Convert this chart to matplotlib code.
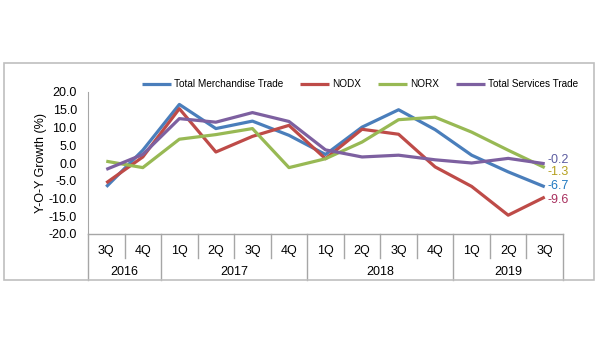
import matplotlib
matplotlib.use("Agg")
import matplotlib.pyplot as plt
from matplotlib.patches import Rectangle

plt.rcParams['font.family'] = ['Liberation Sans', 'DejaVu Sans']

quarters = ["3Q", "4Q", "1Q", "2Q", "3Q", "4Q", "1Q", "2Q", "3Q", "4Q", "1Q", "2Q", "3Q"]
years = ["2016", "2017", "2018", "2019"]
year_spans = [(0, 1), (2, 5), (6, 9), (10, 12)]

merch = [-6.7, 3.6, 16.5, 9.7, 11.8, 7.8, 2.4, 10.1, 15.0, 9.4, 2.2, -2.5, -6.7]
nodx = [-5.6, 1.7, 15.3, 3.1, 7.5, 10.6, 1.2, 9.5, 8.1, -1.1, -6.6, -14.7, -9.6]
norx = [0.5, -1.3, 6.7, 8.0, 9.7, -1.3, 1.2, 5.9, 12.2, 12.9, 8.7, 3.6, -1.3]
services = [-1.8, 2.4, 12.5, 11.5, 14.2, 11.7, 3.7, 1.7, 2.2, 0.9, 0.0, 1.3, -0.2]

# (name, values, line colour, end-label colour, end-label y position)
series = [
    ("Total Merchandise Trade", merch, "#4a7ebb", "#1f78c0", -6.4),
    ("NODX", nodx, "#be4b48", "#a8305e", -10.5),
    ("NORX", norx, "#98b954", "#b5a01e", -2.6),
    ("Total Services Trade", services, "#7d60a0", "#5c5ca0", 0.8),
]

fig = plt.figure(figsize=(6, 3.6), dpi=100)
fig.patch.set_facecolor("white")
fig.patches.append(Rectangle((4/600, 1-280/360), 590/600, 217/360, transform=fig.transFigure,
                             fill=False, edgecolor="#bfbfbf", linewidth=1.2))

ax = fig.add_axes([88/600, 1-234/360, 475/600, 142/360])
x = list(range(len(quarters)))
for name, vals, col, lcol, ly in series:
    ax.plot(x, vals, color=col, linewidth=2.3, label=name, solid_capstyle="butt")

fs = 9
ax.set_xlim(-0.5, len(quarters)-0.5)
ax.set_ylim(-20, 20)
yt = [-20, -15, -10, -5, 0, 5, 10, 15, 20]
ax.set_yticks(yt)
ax.set_yticklabels([f"{v:.1f}" for v in yt], fontsize=fs)
ax.tick_params(axis="y", length=0, pad=8)
ax.set_xticks([])
for s in ["top", "right", "bottom"]:
    ax.spines[s].set_visible(False)
ax.spines["left"].set_color("#a6a6a6")
ax.set_ylabel("Y-O-Y Growth (%)", fontsize=fs, labelpad=1)

# end labels
for name, vals, col, lcol, ly in series:
    ax.annotate(f"{vals[-1]:.1f}", xy=(len(quarters)-1, ly), xytext=(2, 0),
                textcoords="offset points", fontsize=9, color=lcol, va="center", ha="left",
                annotation_clip=False)

# category table
tr = ax.get_xaxis_transform()
gc = "#a6a6a6"
ax.plot([-0.5, len(quarters)-0.5], [0, 0], transform=tr, color=gc, lw=1, clip_on=False)
row1 = -24/142
row2 = -46/142
bounds = set()
for a, b in year_spans:
    bounds.add(a-0.5)
    bounds.add(b+0.5)
for i in range(len(quarters)+1):
    xb = i-0.5
    y2 = row2 if xb in bounds else row1
    ax.plot([xb, xb], [0, y2], transform=tr, color=gc, lw=1, clip_on=False)
for i, q in enumerate(quarters):
    ax.text(i, -17/142, q, transform=tr, ha="center", va="center", fontsize=fs)
for (a, b), yr in zip(year_spans, years):
    ax.text((a+b)/2, -38/142, yr, transform=tr, ha="center", va="center", fontsize=fs)

fig.legend(loc="center", bbox_to_anchor=(0.6, 1-84/360), ncol=4, frameon=False,
           fontsize=7.2, handlelength=2.9, handletextpad=0.3, columnspacing=1.7)

fig.savefig("out.png", dpi=100)
